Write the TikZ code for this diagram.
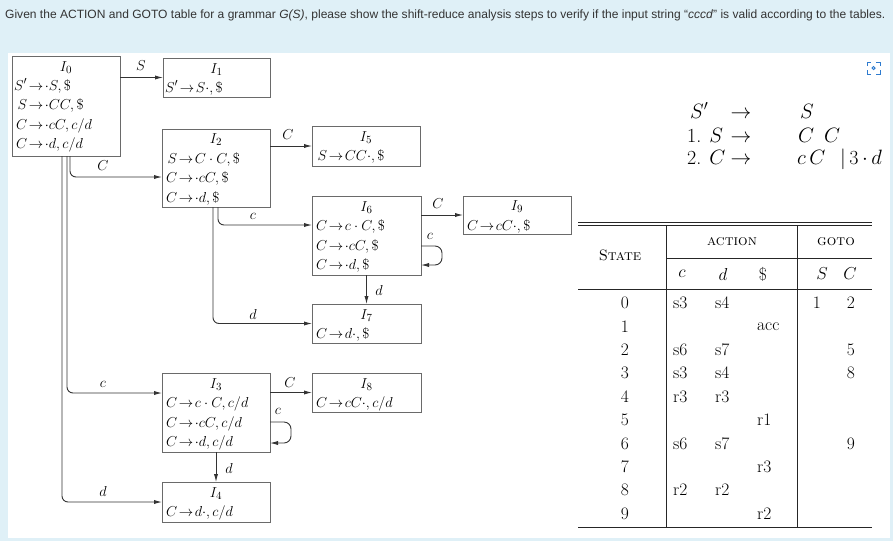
\documentclass[tikz,border=0pt]{standalone}
\usepackage{fontspec}
\newfontfamily\hdrfont{Liberation Sans}
\usetikzlibrary{arrows.meta,calc}
\definecolor{bgblue}{HTML}{DFF0F7}
\definecolor{boxgray}{HTML}{6A6A6A}
\definecolor{hdrtext}{HTML}{333333}
\definecolor{iconblue}{HTML}{2E7BCF}
\definecolor{arrowcol}{HTML}{333333}
\newcommand\lhsbox[1]{\makebox[13pt][r]{$#1$}}
\newcommand\ar{\mathrel{\mkern-3mu\to\mkern-3mu}}
\begin{document}
\begin{tikzpicture}[x=1pt,y=-1pt,
  statebox/.style={draw=boxgray, line width=0.8pt, inner sep=0pt, outer sep=0pt},
  ln/.style={anchor=base west, inner sep=0pt, font=\fontsize{15.5}{17}\selectfont},
  ttl/.style={anchor=base, inner sep=0pt, font=\fontsize{15.5}{17}\selectfont},
  lbl/.style={inner sep=0pt, font=\fontsize{15}{17}\selectfont},
  arr/.style={draw=arrowcol, line width=0.9pt, -{Latex[length=8pt,width=4.2pt]}, rounded corners=6pt},
  tb/.style={inner sep=0pt, font=\fontsize{17.5}{19}\selectfont},
  tbw/.style={inner sep=0pt, anchor=west, font=\fontsize{17.5}{19}\selectfont},
  hd/.style={inner sep=0pt, font=\fontsize{15}{17}\selectfont},
  gr/.style={inner sep=0pt, anchor=base west, font=\fontsize{20}{22}\selectfont},
  rule/.style={draw=black!85, line width=0.75pt}]
% background
\fill[bgblue] (0,0) rectangle (893,541);
\fill[white] (8,53) rectangle (890,538);
\useasboundingbox (0,0) rectangle (893,541);
% header
\node[anchor=west, inner sep=0pt, text=hdrtext] (hdr) at (5,15)
  {\resizebox{880pt}{\height}{\hdrfont\fontsize{12}{14}\selectfont Given the ACTION and GOTO table for a grammar \textit{G(S)}, please show the shift-reduce analysis steps to verify if the input string “\textit{cccd}” is valid according to the tables.}};
% icon
\begin{scope}[iconblue, line width=0.9pt]
\draw (867,66) -- (867,62) -- (871,62);
\draw (876,62) -- (880,62) -- (880,66);
\draw (880,70) -- (880,74) -- (876,74);
\draw (871,74) -- (867,74) -- (867,70);
\draw (873.5,68) circle (1.6);
\end{scope}

% ---------- state boxes ----------
\node[statebox, minimum width=108pt, minimum height=100pt] (I0) at (66,106) {};
\node[ttl] at (66,71) {$I_0$};
\node[ln] at (14,90) {$\lhsbox{S'}\ar{\cdot}S,\$$};
\node[ln] at (14,109.5) {$\lhsbox{S}\ar{\cdot}CC,\$$};
\node[ln] at (14,129) {$\lhsbox{C}\ar{\cdot}cC,c/d$};
\node[ln] at (14,148.5) {$\lhsbox{C}\ar{\cdot}d,c/d$};

\node[statebox, minimum width=107pt, minimum height=39pt] (I1) at (216.5,77.5) {};
\node[ttl] at (216.5,73) {$I_1$};
\node[ln] at (165,92) {$\lhsbox{S'}\ar S{\cdot},\$$};

\node[statebox, minimum width=108pt, minimum height=78pt] (I2) at (216,168) {};
\node[ttl] at (216,143.5) {$I_2$};
\node[ln] at (164,163) {$\lhsbox{S}\ar C\cdot C,\$$};
\node[ln] at (164,182.5) {$\lhsbox{C}\ar{\cdot}cC,\$$};
\node[ln] at (164,202) {$\lhsbox{C}\ar{\cdot}d,\$$};

\node[statebox, minimum width=108pt, minimum height=40pt] (I5) at (366,146) {};
\node[ttl] at (366,141) {$I_5$};
\node[ln] at (314,160.5) {$\lhsbox{S}\ar CC{\cdot},\$$};

\node[statebox, minimum width=109pt, minimum height=79pt] (I6) at (366.5,235.5) {};
\node[ttl] at (366.5,211) {$I_6$};
\node[ln] at (314,230.5) {$\lhsbox{C}\ar c\cdot C,\$$};
\node[ln] at (314,250) {$\lhsbox{C}\ar{\cdot}cC,\$$};
\node[ln] at (314,269.5) {$\lhsbox{C}\ar{\cdot}d,\$$};

\node[statebox, minimum width=108pt, minimum height=38pt] (I9) at (517,215) {};
\node[ttl] at (517,210.5) {$I_9$};
\node[ln] at (465,230) {$\lhsbox{C}\ar cC{\cdot},\$$};

\node[statebox, minimum width=109pt, minimum height=39pt] (I7) at (366.5,323.5) {};
\node[ttl] at (366.5,319) {$I_7$};
\node[ln] at (314,338.5) {$\lhsbox{C}\ar d{\cdot},\$$};

\node[statebox, minimum width=108pt, minimum height=79pt] (I3) at (216,412.5) {};
\node[ttl] at (216,388) {$I_3$};
\node[ln] at (164,407.5) {$\lhsbox{C}\ar c\cdot C,c/d$};
\node[ln] at (164,427) {$\lhsbox{C}\ar{\cdot}cC,c/d$};
\node[ln] at (164,446.5) {$\lhsbox{C}\ar{\cdot}d,c/d$};

\node[statebox, minimum width=109pt, minimum height=39pt] (I8) at (366.5,392.5) {};
\node[ttl] at (366.5,388) {$I_8$};
\node[ln] at (314,407.5) {$\lhsbox{C}\ar cC{\cdot},c/d$};

\node[statebox, minimum width=108pt, minimum height=40pt] (I4) at (216,502) {};
\node[ttl] at (216,497) {$I_4$};
\node[ln] at (164,516.5) {$\lhsbox{C}\ar d{\cdot},c/d$};

% ---------- transitions ----------
\draw[arr] (I0.east |- I1.west) -- (I1.west);
\node[lbl] at (141,66) {$S$};
\draw[arr] ([xshift=4pt]I0.south) |- ([yshift=-9pt]I2.west);
\node[lbl] at (103,166) {$C$};
\draw[arr] ([xshift=1pt]I0.south) |- ([yshift=19.5pt]I3.west);
\node[lbl] at (103,384) {$c$};
\draw[arr] ([xshift=-4pt]I0.south) |- (I4.west);
\node[lbl] at (103,491) {$d$};

\draw[arr] (I2.east |- I5.west) -- (I5.west);
\node[lbl] at (288,135) {$C$};
\draw[arr] ([xshift=2pt]I2.south) |- ([yshift=10.5pt]I6.west);
\node[lbl] at (253,216) {$c$};
\draw[arr] ([xshift=-3pt]I2.south) |- (I7.west);
\node[lbl] at (253,314) {$d$};

\draw[arr] (I6.east |- I9.west) -- (I9.west);
\node[lbl] at (438,204) {$C$};
\draw[arr, rounded corners=7pt] ([yshift=-10.5pt]I6.east) -- ++(21,0) -- ++(0,19) -- ([yshift=-29.5pt]I6.east);
\node[lbl] at (430,236) {$c$};
\draw[arr] (I6.south) -- (I7.north);
\node[lbl] at (379,290) {$d$};

\draw[arr] (I3.east |- I8.west) -- (I8.west);
\node[lbl] at (290,383) {$C$};
\draw[arr, rounded corners=7pt] ([yshift=-9.5pt]I3.east) -- ++(21,0) -- ++(0,21) -- ([yshift=-30.5pt]I3.east);
\node[lbl] at (278,411) {$c$};
\draw[arr] (I3.south) -- (I4.north);
\node[lbl] at (229,468) {$d$};

% ---------- grammar ----------
\node[gr] (g1a) at (690,118) {$S'$};
\node[gr, anchor=base] (g1b) at (741,118) {$\to$};
\node[gr] (g1c) at (800,118) {$S$};
\node[gr] (g2a) at (687,142) {1. $S$};
\node[gr, anchor=base] (g2b) at (741,142) {$\to$};
\node[gr] (g2c) at (798,142) {$C\enspace C$};
\node[gr] (g3a) at (687,164) {2. $C$};
\node[gr, anchor=base] (g3b) at (741,164) {$\to$};
\node[gr] (g3c) at (797,164) {$c\,C$};
\node[gr] (g3d) at (840,164) {$|\,$3$\,{\cdot}\,d$};

% ---------- table ----------
\draw[rule] (578,222) -- (872,222);
\draw[rule] (578,225.5) -- (872,225.5);
\draw[rule] (666,258) -- (872,258);
\draw[rule] (578,289) -- (872,289);
\draw[rule] (578,527) -- (872,527);
\draw[rule] (666,225.5) -- (666,527);
\draw[rule] (797,225.5) -- (797,527);
\node[hd] (hstate) at (620,255) {\textsc{State}};
\node[hd] (haction) at (732,242) {\textsc{action}};
\node[hd] (hgoto) at (836,242) {\textsc{goto}};
\node[tb] (hc) at (682,274) {$c$};
\node[tb] (hd) at (723,274) {$d$};
\node[tb] (hdol) at (763,274) {\$};
\node[tb] (hS) at (822,274) {$S$};
\node[tb] (hC) at (850,274) {$C$};
\foreach \r/\a/\b/\cc/\s/\g [count=\i from 0] in {
  0/s3/s4//1/2, 1///acc//, 2/s6/s7///5, 3/s3/s4///8, 4/r3/r3///,
  5///r1//, 6/s6/s7///9, 7///r3//, 8/r2/r2///, 9///r2//}{
  \pgfmathsetmacro\yy{303+23.4*\i}
  \node[tb] at (625,\yy) {\r};
  \node[tbw] at (673,\yy) {\a};
  \node[tbw] at (715,\yy) {\b};
  \node[tbw] at (757,\yy) {\cc};
  \node[tb] at (817,\yy) {\s};
  \node[tb] at (851,\yy) {\g};
}
\end{tikzpicture}
\end{document}
